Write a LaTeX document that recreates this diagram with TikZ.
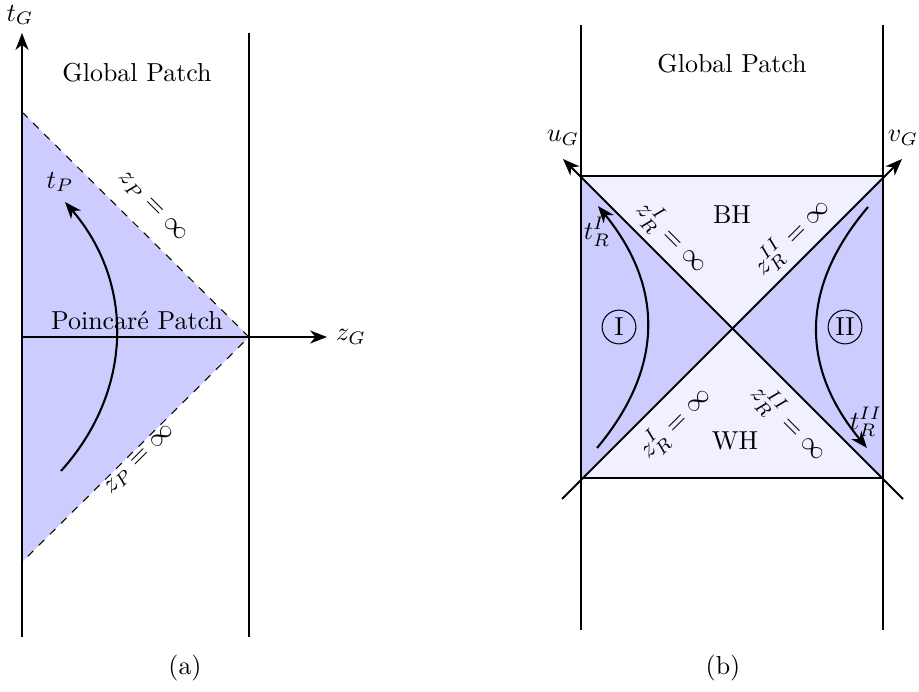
\documentclass[tikz,border=0pt]{standalone}
\usetikzlibrary{arrows.meta}
\definecolor{darkfill}{RGB}{204,204,255}
\definecolor{lightfill}{RGB}{240,240,255}
\begin{document}
\begin{tikzpicture}[x=0.385pt,y=-0.385pt,
  axis/.style={thick},
  arr/.style={thick,-{Stealth[length=6.5pt,width=5pt,inset=2pt]}},
  lbl/.style={inner sep=1pt},
  roman/.style={circle,draw,thin,minimum size=13pt,inner sep=0pt}]
\useasboundingbox (0,0) rectangle (919,692);
% ---------------- panel (a) ----------------
\coordinate (aTop) at (22,112);
\coordinate (aTip) at (249,337);
\coordinate (aBot) at (22,562);
\fill[darkfill] (aTop) -- (aTip) -- (aBot) -- cycle;
\draw[thin,dashed] (aTop) -- (aTip) -- (aBot);
\coordinate (tGs) at (22,637);
\coordinate (tGe) at (22,33);
\draw[arr] (tGs) -- (tGe);
\coordinate (rAs) at (249,33);
\coordinate (rAe) at (249,637);
\draw[axis] (rAs) -- (rAe);
\coordinate (zGs) at (22,337);
\coordinate (zGe) at (327,337);
\draw[arr] (zGs) -- (zGe);
\node[lbl] (tG) at (20,15) {$t_G$};
\node[lbl] (zG) at (351,337) {$z_G$};
\node[lbl] (gpa) at (137,73) {Global Patch};
\node[lbl] (ppa) at (137,321) {Poincar\'e Patch};
\node[lbl] (tP) at (60,182) {$t_P$};
\coordinate (tPs) at (61,471);
\coordinate (tPe) at (65,202);
\draw[arr] (tPs) .. controls (134,390) and (134,282) .. (tPe);
\node[lbl,rotate=-45] (zPtop) at (152,207) {$z_P=\infty$};
\node[lbl,rotate=45] (zPbot) at (140,460) {$z_P=\infty$};
\node[lbl] (capa) at (185,668) {(a)};
% ---------------- panel (b) ----------------
\coordinate (TL) at (581,176);
\coordinate (TR) at (883,176);
\coordinate (BR) at (883,478);
\coordinate (BL) at (581,478);
\coordinate (C) at (732,327);
\fill[lightfill] (TL) rectangle (BR);
\fill[darkfill] (TL) -- (C) -- (BL) -- cycle;
\fill[darkfill] (TR) -- (C) -- (BR) -- cycle;
\draw[thick] (TL) rectangle (BR);
\coordinate (lvs) at (581,25);
\coordinate (lve) at (581,630);
\coordinate (rvs) at (883,25);
\coordinate (rve) at (883,630);
\draw[axis] (lvs) -- (lve);
\draw[axis] (rvs) -- (rve);
\coordinate (uGs) at (903,499);
\coordinate (uGe) at (563,159);
\coordinate (vGs) at (562,499);
\coordinate (vGe) at (902,159);
\draw[arr] (uGs) -- (uGe);
\draw[arr] (vGs) -- (vGe);
\node[lbl] (uG) at (563,138) {$u_G$};
\node[lbl] (vG) at (903,138) {$v_G$};
\node[lbl] (gpb) at (732,64) {Global Patch};
\node[lbl] (BH) at (732,215) {BH};
\node[lbl] (WH) at (735,441) {WH};
\node[roman] (rI) at (619,327) {I};
\node[roman] (rII) at (845,327) {II};
\coordinate (tIs) at (597,448);
\coordinate (tIe) at (598,206);
\draw[arr] (tIs) .. controls (664,368) and (664,287) .. (tIe);
\coordinate (tIIs) at (868,207);
\coordinate (tIIe) at (867,448);
\draw[arr] (tIIs) .. controls (800,287) and (800,367) .. (tIIe);
\node[lbl] (tRI) at (597,232) {$t_R^I$};
\node[lbl] (tRII) at (866,422) {$t_R^{II}$};
\node[lbl,rotate=-45] (zRtl) at (672,237) {$z_R^I=\infty$};
\node[lbl,rotate=45] (zRtr) at (792,237) {$z_R^{II}=\infty$};
\node[lbl,rotate=45] (zRbl) at (675,423) {$z_R^I=\infty$};
\node[lbl,rotate=-45] (zRbr) at (789,423) {$z_R^{II}=\infty$};
\node[lbl] (capb) at (723,668) {(b)};
\end{tikzpicture}
\end{document}
